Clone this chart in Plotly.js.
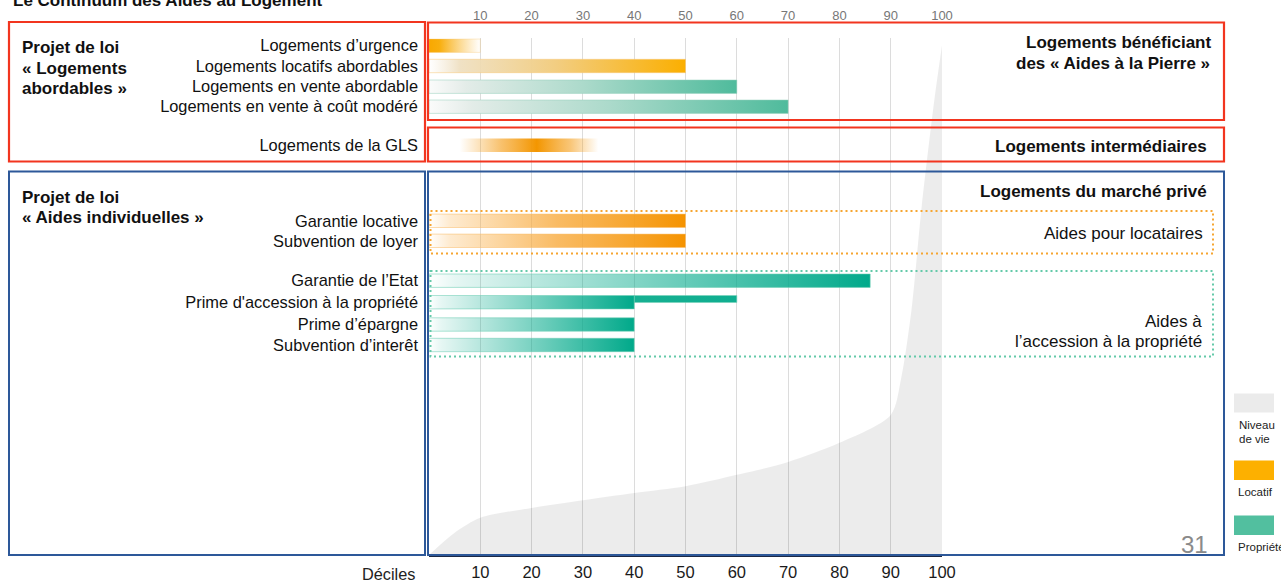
<!DOCTYPE html>
<html>
<head>
<meta charset="utf-8">
<script src="https://cdn.plot.ly/plotly-3.0.1.min.js"></script>
<style>
  html, body { margin: 0; padding: 0; background: #fff; }
  #chart { width: 1281px; height: 582px; }
</style>
</head>
<body>
<div id="chart"></div>
<script>
// ---- Data ----------------------------------------------------------------
const decileTicks = [10, 20, 30, 40, 50, 60, 70, 80, 90, 100];

// Aides à la pierre (projet de loi « Logements abordables »)
const pierreLabels = [
  'Logements d’urgence',
  'Logements locatifs abordables',
  'Logements en vente abordable',
  'Logements en vente à coût modéré'
];
const pierreValues = [10, 50, 60, 70];

// Logements intermédiaires (GLS) : plage de déciles et point central
const glsLabel = 'Logements de la GLS';
const glsRange = [6, 33];
const glsPeak = 21;

// Aides individuelles (projet de loi « Aides individuelles »)
const individuellesLabels = [
  'Garantie locative',
  'Subvention de loyer',
  'Garantie de l’Etat',
  'Prime d\'accession à la propriété',
  'Prime d’épargne',
  'Subvention d’interêt'
];
const individuellesValues = [50, 50, 86, 40, 40, 40];
const primeAccessionPlafond = 60;

// Niveau de vie par décile (indice, 100 = maximum)
const niveauDecile = [0, 5, 10, 20, 30, 40, 50, 60, 70, 80, 90, 92, 94, 96, 98.5, 100];
const niveauDeVie  = [0, 4.3, 7.2, 9.1, 10.6, 12.0, 13.3, 15.5, 18.0, 21.7, 27.1, 34, 47, 67, 88, 98.6];

// ---- Layout helpers -------------------------------------------------------
const W = 1281, H = 582;
const px = x => x / W;
const py = y => 1 - y / H;
const FONT = '"Liberation Sans", Arial, Helvetica, sans-serif';

// vertical placement of the rows (y axis runs in pixel-like units, top = 38)
const pierreRows = [45.7, 66, 86.7, 106.7];
const glsRow = 145.3;
const individuellesRows = [220.8, 240.8, 280.7, 302.2, 324.5, 345];
const BAR_H = 13.4;

function rect(x0, x1, yc, h) {
  return {
    x: [x0, x1, x1, x0, x0],
    y: [yc - h / 2, yc - h / 2, yc + h / 2, yc + h / 2, yc - h / 2]
  };
}

function gradientBar(x0, x1, yc, h, colorscale, edge, xaxis) {
  const r = rect(x0, x1, yc, h);
  return {
    type: 'scatter', mode: 'lines', fill: 'toself',
    x: r.x, y: r.y,
    xaxis: xaxis || 'x', yaxis: 'y',
    line: { width: 1, color: edge },
    fillgradient: { type: 'horizontal', start: x0, stop: x1, colorscale: colorscale },
    hoverinfo: 'skip'
  };
}

// colour ramps
const rampUrgence = [[0, 'rgba(248,168,0,1)'], [0.2, 'rgba(248,170,0,0.95)'], [1, 'rgba(250,180,40,0)']];
const rampLocatifPierre = [[0, 'rgba(240,228,205,0)'], [0.12, 'rgba(238,222,190,0.9)'], [0.5, '#f2cd80'], [1, '#fbaf00']];
const rampProprietePierre = [[0, 'rgba(232,236,234,0.2)'], [0.12, '#e3ece8'], [0.5, '#acdacb'], [1, '#4fbb9c']];
const rampGls = [[0, 'rgba(245,160,30,0)'], [0.3, 'rgba(245,160,30,0.65)'], [(glsPeak - glsRange[0]) / (glsRange[1] - glsRange[0]), 'rgba(243,150,0,1)'], [0.8, 'rgba(245,160,30,0.6)'], [1, 'rgba(245,160,30,0)']];
const rampLocatif = [[0, 'rgba(250,175,70,0)'], [0.08, 'rgba(250,175,70,0.25)'], [0.5, 'rgba(248,170,60,0.8)'], [1, '#f59300']];
const rampPropriete = [[0, 'rgba(0,169,138,0)'], [0.06, 'rgba(0,169,138,0.1)'], [1, 'rgba(0,169,138,1)']];

const traces = [];

// niveau de vie (grey area behind everything)
traces.push({
  type: 'scatter', mode: 'lines',
  x: niveauDecile, y: niveauDeVie,
  xaxis: 'x', yaxis: 'y2',
  fill: 'tozeroy', fillcolor: 'rgba(0,0,0,0.075)',
  line: { width: 0, shape: 'spline', smoothing: 0.8, color: 'rgba(0,0,0,0)' },
  hoverinfo: 'skip'
});

const pierreRamps = [rampUrgence, rampLocatifPierre, rampProprietePierre, rampProprietePierre];
const pierreEdges = ['rgba(250,200,120,0.35)', 'rgba(250,200,120,0.5)', 'rgba(150,210,190,0.5)', 'rgba(150,210,190,0.5)'];
pierreValues.forEach((v, i) => {
  traces.push(gradientBar(0, v, pierreRows[i], BAR_H, pierreRamps[i], pierreEdges[i]));
});

traces.push(gradientBar(glsRange[0], glsRange[1], glsRow, BAR_H, rampGls, 'rgba(255,255,255,0)', 'x2'));

// second layer of the « Prime d'accession » row (up to the ceiling)
traces.push(gradientBar(individuellesValues[3], primeAccessionPlafond,
  individuellesRows[3] - BAR_H / 2 + 3.5, 7, [[0, '#17b092'], [1, '#0fae90']], 'rgba(120,210,185,0.6)'));

individuellesValues.forEach((v, i) => {
  const locatif = i < 2;
  traces.push(gradientBar(0, v, individuellesRows[i], BAR_H,
    locatif ? rampLocatif : rampPropriete,
    locatif ? 'rgba(250,190,110,0.55)' : 'rgba(110,205,180,0.55)'));
});

// ---- Frames ---------------------------------------------------------------
const RED = '#f2351f', BLUE = '#2d5899', ORANGE = '#f6a531', GREEN = '#64c9a9';
function box(x0, y0, x1, y1, color, width, dash) {
  return {
    type: 'rect', xref: 'paper', yref: 'paper', layer: 'above',
    x0: px(x0), x1: px(x1), y0: py(y0), y1: py(y1),
    line: { color: color, width: width, dash: dash || 'solid' },
    fillcolor: 'rgba(0,0,0,0)'
  };
}
function swatch(x0, y0, x1, y1, color) {
  return {
    type: 'rect', xref: 'paper', yref: 'paper',
    x0: px(x0), x1: px(x1), y0: py(y0), y1: py(y1),
    line: { width: 0 }, fillcolor: color
  };
}

const shapes = [
  box(9, 22, 425, 161.5, RED, 2.2),
  box(428, 22.5, 1224, 120, RED, 2.2),
  box(428, 127.5, 1224, 161.5, RED, 2.2),
  box(9, 171.5, 425, 555, BLUE, 2),
  box(428, 171.5, 1224, 555, BLUE, 2),
  box(430.5, 211, 1213, 253.5, ORANGE, 2, '2px,3px'),
  box(430.5, 271, 1213, 356.5, GREEN, 2, '2px,3px'),
  swatch(1234, 393.5, 1274, 412.5, '#ebebeb'),
  swatch(1234, 460.5, 1274, 480, '#fdb000'),
  swatch(1234, 515.5, 1274, 535, '#52bf9f')
];

// ---- Texts ----------------------------------------------------------------
function txt(text, x, y, anchor, size, bold, color) {
  return {
    xref: 'paper', yref: 'paper', x: px(x), y: py(y),
    xanchor: anchor, yanchor: 'middle', showarrow: false,
    text: bold ? '<b>' + text + '</b>' : text,
    font: { family: FONT, size: size, color: color || '#111' }
  };
}

const annotations = [
  txt('Le Continuum des Aides au Logement', 11, 0.5, 'left', 17, true),
  txt('Projet de loi', 19.5, 47, 'left', 17, true),
  txt('« Logements', 19.5, 68, 'left', 17, true),
  txt('abordables »', 19.5, 88.5, 'left', 17, true),
  txt('Projet de loi', 19.5, 197, 'left', 17, true),
  txt('« Aides individuelles »', 19.5, 217.5, 'left', 17, true),
  txt('Logements bénéficiant', 1213, 43, 'right', 17, true),
  txt('des « Aides à la Pierre »', 1212, 63, 'right', 17, true),
  txt('Logements intermédiaires', 1208.5, 146.5, 'right', 17, true),
  txt('Logements du marché privé', 1209, 192, 'right', 17, true),
  txt('Aides pour locataires', 1204.5, 233, 'right', 17, false),
  txt('Aides à', 1203.5, 321.5, 'right', 17, false),
  txt('l’accession à la propriété', 1203.5, 341.5, 'right', 17, false),
  txt('Déciles', 417, 573.5, 'right', 16.3, false, '#222'),
  txt('Niveau', 1237, 424.5, 'left', 11.5, false, '#222'),
  txt('de vie', 1237, 438.5, 'left', 11.5, false, '#222'),
  txt('Locatif', 1236, 491.5, 'left', 11.5, false, '#222'),
  txt('Propriété', 1236, 547, 'left', 11.5, false, '#222'),
  txt('31', 1194, 544, 'center', 24, false, '#8a8a8a')
];

// ---- Layout ---------------------------------------------------------------
const layout = {
  width: W, height: H,
  margin: { l: 0, r: 0, t: 0, b: 0, pad: 0 },
  paper_bgcolor: '#ffffff', plot_bgcolor: 'rgba(0,0,0,0)',
  showlegend: false,
  font: { family: FONT, color: '#111' },
  xaxis: {
    domain: [px(429), px(942)], range: [0, 100],
    tickmode: 'array', tickvals: decileTicks, ticktext: decileTicks.map(String),
    ticks: '', ticklabelstandoff: 1,
    tickfont: { family: FONT, size: 16.5, color: '#1a1a1a' },
    showgrid: true, gridcolor: '#dcdcdc', gridwidth: 1,
    zeroline: false, showline: true, linecolor: '#1c2944', linewidth: 2,
    fixedrange: true
  },
  xaxis2: {
    overlaying: 'x', side: 'top', anchor: 'free', position: py(23),
    range: [0, 100],
    tickmode: 'array', tickvals: decileTicks, ticktext: decileTicks.map(String),
    ticks: '', tickfont: { family: FONT, size: 13, color: '#777' },
    showgrid: false, zeroline: false, showline: false, fixedrange: true
  },
  yaxis: {
    domain: [py(555), py(38)], range: [555, 38],
    tickmode: 'array',
    tickvals: pierreRows.concat([glsRow], individuellesRows),
    ticktext: pierreLabels.concat([glsLabel], individuellesLabels),
    ticks: '', ticklabelstandoff: 10,
    tickfont: { family: FONT, size: 16.4, color: '#111' },
    showgrid: false, zeroline: false, showline: false, fixedrange: true
  },
  yaxis2: {
    overlaying: 'y', range: [0, 100], visible: false, fixedrange: true
  },
  shapes: shapes,
  annotations: annotations
};

Plotly.newPlot('chart', traces, layout, { staticPlot: true, displayModeBar: false });
</script>
</body>
</html>
